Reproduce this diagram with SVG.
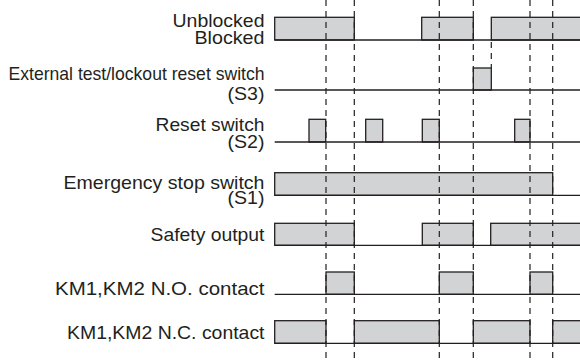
<svg xmlns="http://www.w3.org/2000/svg" width="580" height="360" viewBox="0 0 580 360">
<style>
.lbl{font-family:"Liberation Sans",Arial,sans-serif;font-size:19px;fill:#231f20;text-anchor:end}
.hi{fill:#d1d3d4;stroke:#231f20;stroke-width:1.3}
.base{stroke:#231f20;stroke-width:1.3;fill:none}
.dash{stroke:#231f20;stroke-width:1.2;stroke-dasharray:6 5;fill:none}
</style>
<rect width="580" height="360" fill="#fff"/>
<g id="row-block">
<text class="lbl" x="264.5" y="27.3" textLength="92" lengthAdjust="spacingAndGlyphs">Unblocked</text>
<text class="lbl" x="264.5" y="44.3" textLength="70" lengthAdjust="spacingAndGlyphs">Blocked</text>
<rect class="hi" x="274.7" y="17.3" width="79.6" height="22.7"/>
<rect class="hi" x="421.7" y="17.3" width="51.6" height="22.7"/>
<rect class="hi" x="491.3" y="17.3" width="92" height="22.7"/>
<line class="base" x1="274.7" y1="40" x2="580" y2="40"/>
</g>
<g id="row-s3">
<text class="lbl" x="264.5" y="80" textLength="256" lengthAdjust="spacingAndGlyphs">External test/lockout reset switch</text>
<text class="lbl" x="264.5" y="99.5" textLength="37" lengthAdjust="spacingAndGlyphs">(S3)</text>
<rect class="hi" x="473.3" y="68" width="18" height="22"/>
<line class="base" x1="274.7" y1="90" x2="580" y2="90"/>
</g>
<g id="row-s2">
<text class="lbl" x="264.5" y="130.5" textLength="109" lengthAdjust="spacingAndGlyphs">Reset switch</text>
<text class="lbl" x="264.5" y="147.5" textLength="37" lengthAdjust="spacingAndGlyphs">(S2)</text>
<rect class="hi" x="309" y="119.3" width="16.7" height="22.7"/>
<rect class="hi" x="365.7" y="119.3" width="17" height="22.7"/>
<rect class="hi" x="422.3" y="119.3" width="17" height="22.7"/>
<rect class="hi" x="514.7" y="119.3" width="15.3" height="22.7"/>
<line class="base" x1="274.7" y1="142" x2="580" y2="142"/>
</g>
<g id="row-s1">
<text class="lbl" x="264.5" y="188.5" textLength="201" lengthAdjust="spacingAndGlyphs">Emergency stop switch</text>
<text class="lbl" x="264.5" y="204" textLength="37" lengthAdjust="spacingAndGlyphs">(S1)</text>
<rect class="hi" x="274.7" y="172.7" width="278" height="22.6"/>
<line class="base" x1="274.7" y1="195.3" x2="580" y2="195.3"/>
</g>
<g id="row-safety">
<text class="lbl" x="264.5" y="240.5" textLength="114" lengthAdjust="spacingAndGlyphs">Safety output</text>
<rect class="hi" x="274.7" y="223.3" width="79.6" height="22"/>
<rect class="hi" x="422.3" y="223.3" width="51" height="22"/>
<rect class="hi" x="490.7" y="223.3" width="92" height="22"/>
<line class="base" x1="274.7" y1="245.3" x2="580" y2="245.3"/>
</g>
<g id="row-no">
<text class="lbl" x="264.5" y="295" textLength="209.5" lengthAdjust="spacingAndGlyphs">KM1,KM2 N.O. contact</text>
<rect class="hi" x="326" y="272" width="28.3" height="22.3"/>
<rect class="hi" x="439.3" y="272" width="34" height="22.3"/>
<rect class="hi" x="530" y="272" width="22.7" height="22.3"/>
<line class="base" x1="274.7" y1="294.3" x2="580" y2="294.3"/>
</g>
<g id="row-nc">
<text class="lbl" x="264.5" y="339" textLength="197.5" lengthAdjust="spacingAndGlyphs">KM1,KM2 N.C. contact</text>
<rect class="hi" x="274.7" y="320.7" width="51.3" height="22.6"/>
<rect class="hi" x="354.3" y="320.7" width="85" height="22.6"/>
<rect class="hi" x="473.3" y="320.7" width="56.7" height="22.6"/>
<rect class="hi" x="552.7" y="320.7" width="30" height="22.6"/>
<line class="base" x1="274.7" y1="343.3" x2="580" y2="343.3"/>
</g>
<g id="connectors">
<line class="dash" x1="326" y1="0" x2="326" y2="360"/>
<line class="dash" x1="354.3" y1="0" x2="354.3" y2="360"/>
<line class="dash" x1="439.3" y1="0" x2="439.3" y2="360"/>
<line class="dash" x1="473.3" y1="0" x2="473.3" y2="360"/>
<line class="dash" x1="530" y1="0" x2="530" y2="360"/>
<line class="dash" x1="552.7" y1="0" x2="552.7" y2="360"/>
<line class="dash" x1="491.3" y1="42" x2="491.3" y2="68"/>
</g>
</svg>
